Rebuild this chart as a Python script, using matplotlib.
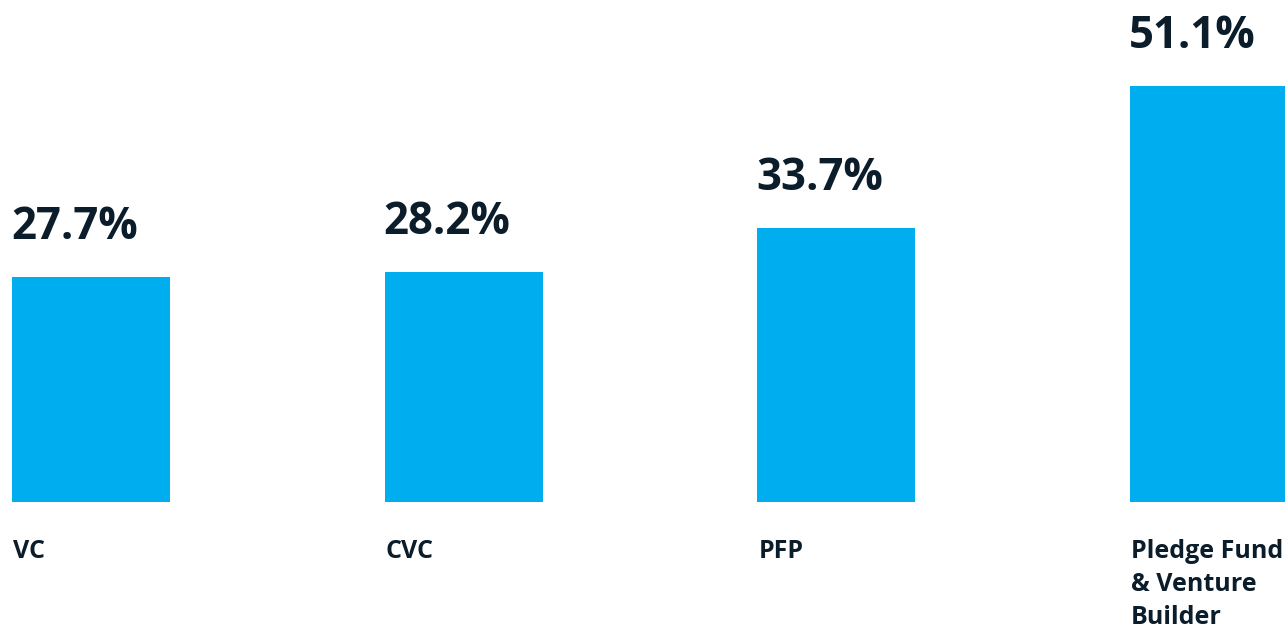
import numpy as np
import matplotlib.pyplot as plt
from matplotlib import font_manager

# data
categories = ["VC", "CVC", "PFP", "Pledge Fund\n& Venture\nBuilder"]
values = [27.7, 28.2, 33.7, 51.1]

bar_color = "#00AEEF"
text_color = "#0B1D2A"

# pick a family that actually has a bold face
fam = 'DejaVu Sans'
for name in ['Open Sans', 'Noto Sans', 'Lato']:
    f = font_manager.findfont(font_manager.FontProperties(family=name, weight='bold'),
                              fallback_to_default=False)
    if 'bold' in f.lower():
        fam = name
        break
plt.rcParams['font.family'] = [fam, 'DejaVu Sans']

fig = plt.figure(figsize=(12.85, 6.31), dpi=100)
# axes spans full width, baseline at 502px from top
ax = fig.add_axes([0, 129 / 631, 1, 502 / 631])

step = 372.7
width = 158 / step
x = np.arange(len(values))
ax.bar(x, values, width=width, color=bar_color)

ax.set_xlim(-91 / step, (1285 - 91) / step)
ax.set_ylim(0, 502 / 8.14)
ax.axis('off')

px = 72 / 100  # pixels -> points
for xi, v, cat in zip(x, values, categories):
    left = xi - width / 2
    ax.annotate(f"{v:.1f}%", xy=(left, v), xytext=(-1 * px, 38 * px),
                textcoords='offset points', ha='left', va='baseline',
                fontsize=31.5, fontweight='bold', color=text_color,
                annotation_clip=False)
    ax.annotate(cat, xy=(left, 0), xytext=(1 * px, -37 * px),
                textcoords='offset points', ha='left', va='top',
                fontsize=18, fontweight='bold', color=text_color,
                linespacing=1.42, annotation_clip=False)

fig.savefig("out.png", dpi=100)
